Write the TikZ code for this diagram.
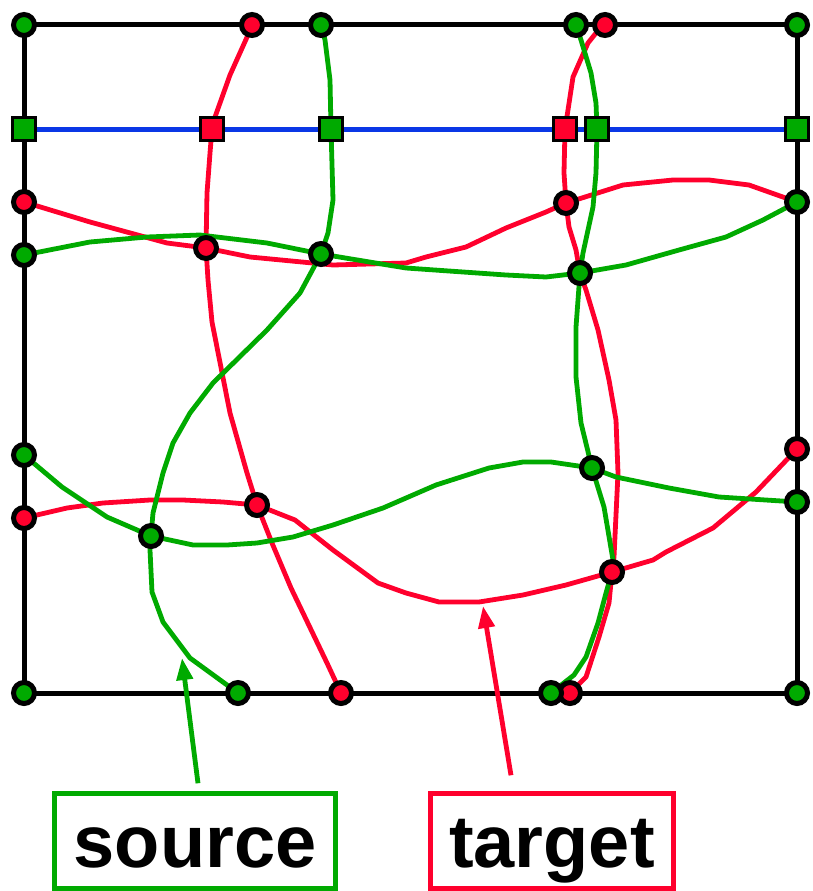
\documentclass[tikz,border=0pt]{standalone}
\usepackage{fontspec}
\setmainfont{Liberation Sans}
\usetikzlibrary{arrows.meta}
\definecolor{srcgreen}{RGB}{0,170,0}
\definecolor{tgtred}{RGB}{255,0,45}
\definecolor{lineblue}{RGB}{10,55,230}
\tikzset{
  gdot/.style={circle,draw=black,fill=srcgreen,line width=5pt,minimum size=21pt,inner sep=0pt},
  rdot/.style={circle,draw=black,fill=tgtred,line width=5pt,minimum size=21pt,inner sep=0pt},
  gsq/.style={rectangle,draw=black,fill=srcgreen,line width=2.5pt,minimum size=23pt,inner sep=0pt},
  rsq/.style={rectangle,draw=black,fill=tgtred,line width=2.5pt,minimum size=23pt,inner sep=0pt},
  frameline/.style={draw=black,line width=5pt},
  blueline/.style={draw=lineblue,line width=5pt},
  gcurve/.style={draw=srcgreen,line width=4.8pt,line join=round},
  rcurve/.style={draw=tgtred,line width=4.8pt,line join=round},
  labelbox/.style={rectangle,line width=4.5pt,inner sep=0pt,minimum height=95pt,
    font=\fontsize{74}{80}\selectfont\bfseries,text height=52pt,text depth=0pt},
  callout/.style={line width=4.8pt,-{Triangle[length=22pt,width=16pt]}}
}
\begin{document}
\begin{tikzpicture}[x=1pt,y=-1pt]
\useasboundingbox (0,0) rectangle (812,891);
% corner coordinates
\coordinate (ctA) at (24,25);
\coordinate (ctF) at (797,25);
\coordinate (cblc) at (24,693);
\coordinate (cbrc) at (797,693);
% frame
\draw[frameline] (ctA) -- (ctF) -- (cbrc) -- (cblc) -- cycle;
% blue line
\draw[blueline] (24,129) coordinate (csA) -- (797,129) coordinate (csF);

% red curves
\draw[rcurve] (252,25) -- (248,35) -- (230,75) -- (215,117) -- (212,129) -- (210,153) -- (207,193) -- (206,248)
  -- (208,280) -- (212,322) -- (230,413) -- (247,473) -- (257,505) -- (272,543) -- (291,588)
  -- (327,663) -- (341,693);
\draw[rcurve] (605,25) -- (596,33) -- (588,43) -- (573,77) -- (568,110) -- (565,129) -- (564,173) -- (566,203)
  -- (569,227) -- (576,250) -- (580,273) -- (586,290) -- (598,330) -- (609,380) -- (616,420) -- (618,473)
  -- (614,557) -- (612,572) -- (609,603) -- (599,637) -- (586,677) -- (570,693);
\draw[rcurve] (24,202) -- (90,222) -- (167,243) -- (206,248) -- (250,257) -- (333,265) -- (406,263) -- (426,257)
  -- (466,247) -- (506,228) -- (546,212) -- (566,203) -- (623,185) -- (673,180) -- (709,180) -- (749,185) -- (797,202);
\draw[rcurve] (24,518) -- (67,508) -- (103,503) -- (150,500) -- (183,500) -- (223,502) -- (257,505) -- (295,520)
  -- (333,550) -- (378,583) -- (406,593) -- (439,602) -- (479,602) -- (523,595) -- (566,585) -- (612,572)
  -- (653,560) -- (666,552) -- (713,528) -- (756,492) -- (797,449);

% green curves
\draw[gcurve] (321,25) -- (325,40) -- (330,80) -- (331,129) -- (333,200) -- (328,233) -- (321,254)
  -- (307,280) -- (300,293) -- (267,330) -- (213,383) -- (190,413) -- (173,443) -- (163,473) -- (153,513)
  -- (151,536) -- (150,550) -- (152,592) -- (163,622) -- (190,658) -- (238,693);
\draw[gcurve] (576,25) -- (581,40) -- (591,73) -- (596,103) -- (597,129) -- (596,173) -- (593,207) -- (583,253)
  -- (580,273) -- (576,327) -- (576,377) -- (581,423) -- (592,468) -- (604,507) -- (613,560) -- (612,572)
  -- (606,593) -- (598,623) -- (586,657) -- (574,675) -- (551,693);
\draw[gcurve] (24,255) -- (90,242) -- (147,237) -- (200,235) -- (267,243) -- (321,254) -- (406,268) -- (506,275)
  -- (546,277) -- (580,273) -- (626,265) -- (679,250) -- (726,237) -- (763,220) -- (797,202);
\draw[gcurve] (24,455) -- (62,487) -- (107,517) -- (151,536) -- (193,545) -- (227,545) -- (257,543) -- (293,537)
  -- (333,525) -- (383,508) -- (436,485) -- (489,468) -- (523,462) -- (551,462) -- (592,468) -- (616,477)
  -- (669,488) -- (719,497) -- (797,502);

% squares on the blue line
\node[gsq] (sA) at (csA) {};
\node[rsq] (sB) at (212,129) {};
\node[gsq] (sC) at (331,129) {};
\node[rsq] (sD) at (565,129) {};
\node[gsq] (sE) at (597,129) {};
\node[gsq] (sF) at (csF) {};

% dots on the frame
\node[gdot] (tA) at (ctA) {};
\node[rdot] (tB) at (252,25) {};
\node[gdot] (tC) at (321,25) {};
\node[gdot] (tD) at (576,25) {};
\node[rdot] (tE) at (605,25) {};
\node[gdot] (tF) at (ctF) {};
\node[rdot] (lA) at (24,202) {};
\node[gdot] (lB) at (24,255) {};
\node[gdot] (lC) at (24,455) {};
\node[rdot] (lD) at (24,518) {};
\node[gdot] (blc) at (cblc) {};
\node[gdot] (rA) at (797,202) {};
\node[rdot] (rB) at (797,449) {};
\node[gdot] (rC) at (797,502) {};
\node[gdot] (brc) at (cbrc) {};
\node[gdot] (bA) at (238,693) {};
\node[rdot] (bB) at (341,693) {};
\node[rdot] (bD) at (570,693) {};
\node[gdot] (bC) at (551,693) {};

% interior crossing dots
\node[rdot] (iA) at (206,248) {};
\node[gdot] (iB) at (321,254) {};
\node[rdot] (iC) at (566,203) {};
\node[gdot] (iD) at (580,273) {};
\node[rdot] (iE) at (257,505) {};
\node[gdot] (iF) at (151,536) {};
\node[gdot] (iG) at (592,468) {};
\node[rdot] (iH) at (612,572) {};

% labels
\node[labelbox,draw=srcgreen,minimum width=281pt] (src) at (195,841) {source};
\node[labelbox,draw=tgtred,minimum width=243pt] (tgt) at (552,841) {target};
\coordinate (srcTip) at (182,658);
\coordinate (tgtTip) at (483,606);
\draw[callout,srcgreen] ([xshift=3pt,yshift=8pt]src.north) -- (srcTip);
\draw[callout,tgtred] ([xshift=-41pt,yshift=16pt]tgt.north) -- (tgtTip);
\end{tikzpicture}
\end{document}
